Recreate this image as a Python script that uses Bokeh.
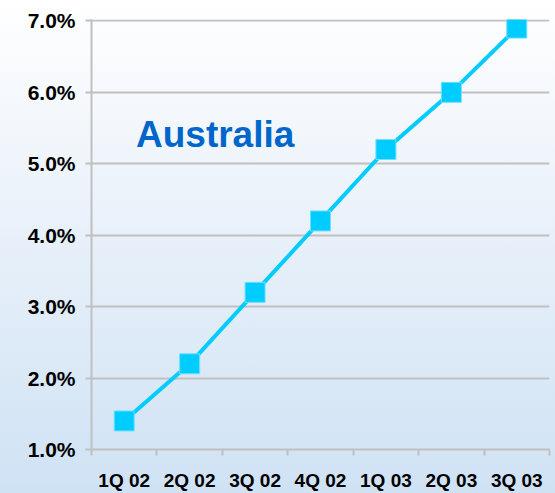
from bokeh.plotting import figure
from bokeh.models import Range1d, FixedTicker, PrintfTickFormatter, Label, ColumnDataSource
from bokeh.embed import file_html
from bokeh.resources import INLINE

# ---- data ----
quarters = ["1Q 02", "2Q 02", "3Q 02", "4Q 02", "1Q 03", "2Q 03", "3Q 03"]
growth_pct = [1.4, 2.2, 3.2, 4.2, 5.2, 6.0, 6.9]
y_ticks = [1, 2, 3, 4, 5, 6, 7]
title_text = "Australia"

xpos = [i + 0.5 for i in range(len(quarters))]
src = ColumnDataSource(dict(x=xpos, y=growth_pct, q=quarters))

p = figure(width=555, height=493, output_backend="svg", toolbar_location=None,
           x_range=Range1d(0, len(quarters)), y_range=Range1d(1, 7.02),
           min_border_left=91, min_border_right=6, min_border_top=19, min_border_bottom=43)
p.background_fill_color = None
p.border_fill_color = None
p.outline_line_color = None

p.line("x", "y", source=src, line_color="#00ccff", line_width=4)
p.scatter("x", "y", source=src, marker="square", size=20,
          fill_color="#00ccff", line_color="#6fe0ff", line_width=1)

grey = "#c0c0c0"
font = "Liberation Sans"

# x axis
p.xaxis.ticker = FixedTicker(ticks=xpos, minor_ticks=list(range(len(quarters) + 1)))
p.xaxis.major_label_overrides = {x: q for x, q in zip(xpos, quarters)}
p.xaxis.major_tick_out = 0
p.xaxis.major_tick_in = 0
p.xaxis.minor_tick_out = 6
p.xaxis.minor_tick_in = 0
p.xaxis.minor_tick_line_color = grey
p.xaxis.minor_tick_line_width = 2
p.xaxis.axis_line_color = grey
p.xaxis.axis_line_width = 2
p.xaxis.major_label_text_font = font
p.xaxis.major_label_text_font_style = "bold"
p.xaxis.major_label_text_font_size = "19px"
p.xaxis.major_label_text_color = "black"
p.xaxis.major_label_standoff = 14

# y axis
p.yaxis.ticker = FixedTicker(ticks=y_ticks, minor_ticks=[])
p.yaxis.formatter = PrintfTickFormatter(format="%.1f%%")
p.yaxis.major_tick_out = 6
p.yaxis.major_tick_in = 0
p.yaxis.major_tick_line_color = grey
p.yaxis.major_tick_line_width = 2
p.yaxis.axis_line_color = grey
p.yaxis.axis_line_width = 2
p.yaxis.major_label_text_font = font
p.yaxis.major_label_text_font_style = "bold"
p.yaxis.major_label_text_font_size = "21px"
p.yaxis.major_label_text_color = "black"
p.yaxis.major_label_standoff = 10

p.xgrid.grid_line_color = None
p.ygrid.ticker = FixedTicker(ticks=y_ticks)
p.ygrid.grid_line_color = grey
p.ygrid.grid_line_width = 2

p.add_layout(Label(x=0.68, y=5.41, text=title_text, text_font=font, text_font_style="bold",
                   text_font_size="37px", text_color="#0066cc", text_baseline="alphabetic"))

html = file_html(p, INLINE)
style = ("<style>html,body{background:linear-gradient(to bottom,#ffffff 0%,#eef4fb 35%,"
         "#cfe2f4 100%);background-attachment:fixed;min-height:100%;}</style>")
html = html.replace("</head>", style + "</head>", 1)
open("out.html", "w").write(html)
